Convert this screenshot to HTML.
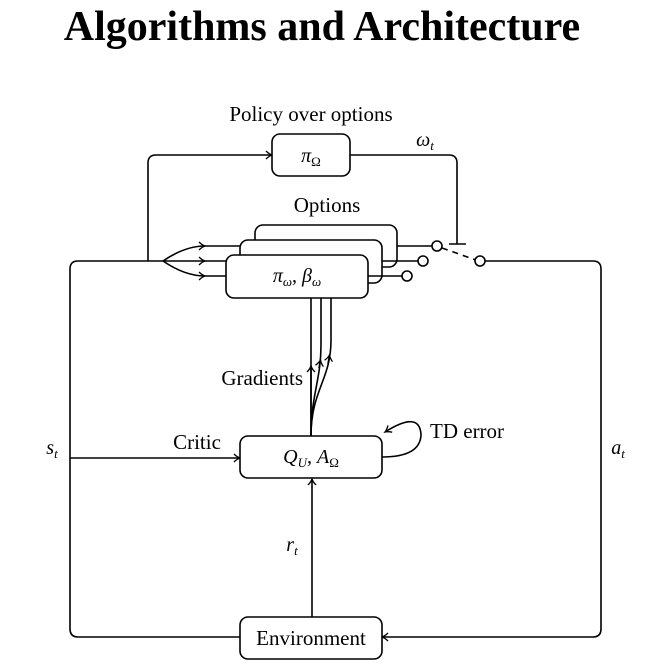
<!DOCTYPE html>
<html><head><style>body{margin:0;background:#fff}svg{display:block}</style></head><body>
<svg width="666" height="670" viewBox="0 0 666 670" xmlns="http://www.w3.org/2000/svg" font-family="Liberation Serif, serif">
<defs><marker id="a" markerWidth="10" markerHeight="10" refX="8" refY="5" orient="auto" markerUnits="userSpaceOnUse"><path d="M2,1 Q5,4 8,5 Q5,6 2,9" fill="none" stroke="#000" stroke-width="1.3"/></marker></defs>
<text x="322" y="40" text-anchor="middle" font-size="42" font-weight="bold">Algorithms and Architecture</text>
<g fill="none" stroke="#000" stroke-width="1.6">
<path d="M148,261 V163 Q148,155 156,155 H272" marker-end="url(#a)"/>
<rect x="272" y="134" width="78" height="42" rx="8" fill="#fff"/>
<path d="M350,155 H449 Q457,155 457,163 V244"/>
<path d="M449,244 H466"/>
<path d="M240,637 H78 Q70,637 70,629 V269 Q70,261 78,261 H163"/>
<path d="M163,261 Q185,246 205,246" marker-end="url(#a)"/>
<path d="M163,261 H205" marker-end="url(#a)"/>
<path d="M163,261 Q185,276 205,276" marker-end="url(#a)"/>
<path d="M205,246 H260 M205,261 H245 M205,276 H230"/>
<rect x="255" y="225" width="142" height="42" rx="8" fill="#fff"/>
<rect x="240" y="240" width="142" height="43" rx="8" fill="#fff"/>
<rect x="226" y="255" width="142" height="43" rx="8" fill="#fff"/>
<path d="M397,246 H432 M382,261 H418 M368,276 H402"/>
<circle cx="437" cy="246" r="5" fill="#fff"/>
<circle cx="423" cy="261" r="5" fill="#fff"/>
<circle cx="407" cy="276" r="5" fill="#fff"/>
<path d="M442,248 L476,260" stroke-dasharray="6,5"/>
<circle cx="480" cy="261" r="5" fill="#fff"/>
<path d="M485,261 H593 Q601,261 601,269 V629 Q601,637 593,637 H382" marker-end="url(#a)"/>
<path d="M311,298 V436"/>
<path d="M311,436 V366" marker-end="url(#a)"/>
<path d="M321,298 V345 C321,380 311,395 311,436"/>
<path d="M319,368 L320.5,360" marker-end="url(#a)"/>
<path d="M331,298 V340 C331,380 311,390 311,436"/>
<path d="M328,364 L329.5,355" marker-end="url(#a)"/>
<path d="M70,458 H240" marker-end="url(#a)"/>
<rect x="240" y="436" width="142" height="42" rx="8" fill="#fff"/>
<path d="M382,457 Q420,457 421,435 Q420,410 385,432" marker-end="url(#a)"/>
<path d="M312,617 V479" marker-end="url(#a)"/>
<rect x="240" y="617" width="142" height="42" rx="8" fill="#fff"/>
</g>
<g font-size="20" text-anchor="middle">
<text x="311" y="121" font-size="21">Policy over options</text>
<text x="311" y="162" font-style="italic">π<tspan font-size="13" dy="4" font-style="normal">Ω</tspan></text>
<text x="425" y="146" font-style="italic">ω<tspan font-size="13" dy="4">t</tspan></text>
<text x="327" y="212" font-size="21">Options</text>
<text x="297" y="282" font-style="italic">π<tspan font-size="13" dy="4">ω</tspan><tspan dy="-4" font-style="normal">,  </tspan>β<tspan font-size="13" dy="4">ω</tspan></text>
<text x="303" y="385" text-anchor="end" font-size="21">Gradients</text>
<text x="311" y="463" font-style="italic">Q<tspan font-size="13" dy="4">U</tspan><tspan dy="-4" font-style="normal">, </tspan>A<tspan font-size="13" dy="4" font-style="normal">Ω</tspan></text>
<text x="430" y="438" text-anchor="start" font-size="21">TD error</text>
<text x="197" y="449" font-size="21">Critic</text>
<text x="52" y="454" font-style="italic">s<tspan font-size="13" dy="4">t</tspan></text>
<text x="618" y="454" font-style="italic">a<tspan font-size="13" dy="4">t</tspan></text>
<text x="292" y="551" font-style="italic">r<tspan font-size="13" dy="4">t</tspan></text>
<text x="311" y="645" font-size="21">Environment</text>
</g>
</svg>
</body></html>
